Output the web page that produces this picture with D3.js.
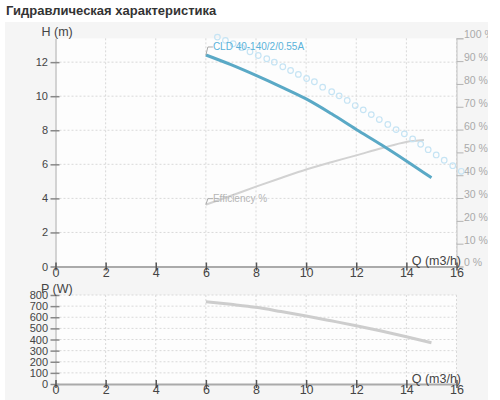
<!DOCTYPE html>
<html>
<head>
<meta charset="utf-8">
<script src="https://cdn.jsdelivr.net/npm/d3@7"></script>
<style>
body { margin: 0; background: #fff; }
svg { display: block; font-family: "Liberation Sans", Arial, sans-serif; }
</style>
</head>
<body>
<script>
var width = 488,
    height = 400;

// tick values
var qTicks = [0, 2, 4, 6, 8, 10, 12, 14, 16];
var hTicks = [0, 2, 4, 6, 8, 10, 12];
var effTicks = [0, 10, 20, 30, 40, 50, 60, 70, 80, 90, 100];
var pTicks = [0, 100, 200, 300, 400, 500, 600, 700, 800];

// H(Q) curve of the selected pump
var qHead = [6, 7, 8, 9, 10, 11, 12, 13, 14, 15];
var head = [12.42, 11.85, 11.22, 10.55, 9.84, 8.98, 8.05, 7.15, 6.2, 5.21];

// efficiency, %
var qEff = [6, 7, 8, 9, 10, 11, 12, 13, 14, 14.7];
var eff = [27.1, 31, 35, 38.8, 42.5, 45.7, 48.7, 51.8, 54.6, 55.4];

// power, W
var qPower = [6, 7, 8, 9, 10, 11, 12, 13, 14, 15];
var power = [740, 716, 689, 651, 611, 568, 524, 476, 425, 371];

// dotted curve (circles)
var qDots = [6.46, 6.78, 7.09, 7.43, 7.76, 8.09, 8.43, 8.73, 9.07, 9.38, 9.69, 10.02, 10.33,
    10.66, 11.02, 11.32, 11.64, 11.96, 12.28, 12.6, 12.92, 13.26, 13.59, 13.92, 14.25,
    14.57, 14.87, 15.19, 15.51, 15.85, 16.19];
var hDots = [13.47, 13.28, 13.08, 12.85, 12.61, 12.39, 12.2, 12.0, 11.73, 11.51, 11.28, 11.04, 10.85,
    10.53, 10.26, 10.02, 9.75, 9.45, 9.2, 8.92, 8.63, 8.34, 8.04, 7.79, 7.49,
    7.18, 6.86, 6.55, 6.24, 5.92, 5.59];

var x = d3.scaleLinear().domain([0, 16]).range([55.5, 456.5]);
var yH = d3.scaleLinear().domain([0, 13.4]).range([266.5, 38.3]);
var yE = d3.scaleLinear().domain([0, 100]).range([266.5, 38.3]);
var yP = d3.scaleLinear().domain([0, 800]).range([384, 295]);

var svg = d3.select("body").append("svg")
    .attr("width", width)
    .attr("height", height);

svg.append("text")
    .attr("x", 6)
    .attr("y", 14.5)
    .attr("font-size", 13)
    .attr("font-weight", "bold")
    .attr("fill", "#333")
    .text("Гидравлическая характеристика");

svg.append("rect")
    .attr("x", 5)
    .attr("y", 22)
    .attr("width", width - 5)
    .attr("height", height - 22)
    .attr("fill", "#f5f5f5");

// plot backgrounds
[[yH, 13.4], [yP, 800]].forEach(function(d) {
    svg.append("rect")
        .attr("x", x(0))
        .attr("y", d[0](d[1]))
        .attr("width", x(16) - x(0))
        .attr("height", d[0](0) - d[0](d[1]))
        .attr("fill", "#fdfdfd");
});

// grid
function grid(yScale, yTicks, yMax) {
    var g = svg.append("g")
        .attr("stroke", "#d9d9d9")
        .attr("stroke-dasharray", "2,2");
    g.selectAll("line.v")
        .data(qTicks.slice(1))
        .enter().append("line")
        .attr("x1", function(d) { return x(d); })
        .attr("x2", function(d) { return x(d); })
        .attr("y1", yScale(yMax))
        .attr("y2", yScale(0));
    g.selectAll("line.h")
        .data(yTicks.slice(1))
        .enter().append("line")
        .attr("x1", x(0))
        .attr("x2", x(16))
        .attr("y1", function(d) { return yScale(d); })
        .attr("y2", function(d) { return yScale(d); });
}
grid(yH, hTicks, 13.4);
grid(yP, pTicks, 800);

// right efficiency axis
var effAxis = svg.append("g")
    .attr("transform", "translate(" + x(16) + ",0)")
    .call(d3.axisRight(yE).tickValues(effTicks).tickSize(7).tickPadding(0.5)
        .tickFormat(function(d) { return d + " %"; }));
effAxis.select(".domain").attr("stroke", "#c4c4c4");
effAxis.selectAll(".tick line").attr("stroke", "#b4b4b4");
effAxis.selectAll(".tick text")
    .attr("dy", "-0.05em")
    .attr("fill", "#aaa")
    .attr("font-size", 10.5)
    .attr("font-family", null);

function leftAxis(yScale, yTicks) {
    var g = svg.append("g")
        .attr("transform", "translate(" + x(0) + ",0)")
        .call(d3.axisLeft(yScale).tickValues(yTicks).tickSize(5).tickPadding(2.5).tickSizeOuter(0));
    g.select(".domain").attr("stroke", "#aaa");
    g.selectAll(".tick line").attr("x1", 4).attr("stroke", "#888").attr("stroke-width", 1.5);
    g.selectAll(".tick text")
        .attr("fill", "#444")
        .attr("font-size", 11)
        .attr("font-family", null);
    return g;
}

function bottomAxis(yScale) {
    var g = svg.append("g")
        .attr("transform", "translate(0," + yScale(0) + ")")
        .call(d3.axisBottom(x).tickValues(qTicks).tickSize(4).tickSizeOuter(0));
    g.select(".domain").attr("stroke", "#aaa").attr("stroke-width", 2);
    g.selectAll(".tick line").attr("y1", -4).attr("stroke", "#555").attr("stroke-width", 1.5);
    g.selectAll(".tick text")
        .attr("y", 1.5)
        .attr("fill", "#444")
        .attr("font-size", 12.5)
        .attr("font-family", null);
    return g;
}

leftAxis(yH, hTicks);
leftAxis(yP, pTicks);

// efficiency curve
var effLine = d3.line()
    .x(function(d) { return x(d[0]); })
    .y(function(d) { return yE(d[1]); })
    .curve(d3.curveMonotoneX);
svg.append("path")
    .attr("d", effLine(d3.zip(qEff, eff)))
    .attr("fill", "none")
    .attr("stroke", "#d2d2d2")
    .attr("stroke-width", 2);

// dotted curve
svg.append("g").selectAll("circle")
    .data(d3.zip(qDots, hDots))
    .enter().append("circle")
    .attr("cx", function(d) { return x(d[0]); })
    .attr("cy", function(d) { return yH(d[1]); })
    .attr("r", 2.8)
    .attr("fill", "none")
    .attr("stroke", "#c6e4f4")
    .attr("stroke-width", 1.2);

// head curve
var headLine = d3.line()
    .x(function(d) { return x(d[0]); })
    .y(function(d) { return yH(d[1]); })
    .curve(d3.curveMonotoneX);
svg.append("path")
    .attr("d", headLine(d3.zip(qHead, head)))
    .attr("fill", "none")
    .attr("stroke", "#5aa9c6")
    .attr("stroke-width", 3);

// power curve
var powerLine = d3.line()
    .x(function(d) { return x(d[0]); })
    .y(function(d) { return yP(d[1]); })
    .curve(d3.curveMonotoneX);
svg.append("path")
    .attr("d", powerLine(d3.zip(qPower, power)))
    .attr("fill", "none")
    .attr("stroke", "#cdcdcd")
    .attr("stroke-width", 3);

bottomAxis(yH);
bottomAxis(yP);

// series labels with leaders
function seriesLabel(px, py, rise, text, color) {
    svg.append("path")
        .attr("d", "M" + px + "," + py + "L" + (px + 2) + "," + (py - rise) + "L" + (px + 7) + "," + (py - rise))
        .attr("fill", "none")
        .attr("stroke", "#aaa")
        .attr("stroke-width", 1);
    svg.append("text")
        .attr("x", px + 7)
        .attr("y", py - rise + 3.5)
        .attr("font-size", 10)
        .attr("fill", color)
        .text(text);
}
seriesLabel(x(qHead[0]), yH(head[0]), 8, "CLD 40-140/2/0.55A", "#5ab2da");
seriesLabel(x(qEff[0]), yE(eff[0]), 6, "Efficiency %", "#b5b5b5");

// axis titles
var titles = [
    ["H (m)", 41.5, 36, "start"],
    ["P (W)", 41, 293, "start"],
    ["Q (m3/h)", 461, 265, "end"],
    ["Q (m3/h)", 461, 383, "end"]
];
svg.selectAll("text.title")
    .data(titles)
    .enter().append("text")
    .attr("class", "title")
    .attr("x", function(d) { return d[1]; })
    .attr("y", function(d) { return d[2]; })
    .attr("text-anchor", function(d) { return d[3]; })
    .attr("font-size", 12.5)
    .attr("fill", "#444")
    .text(function(d) { return d[0]; });
</script>
</body>
</html>
